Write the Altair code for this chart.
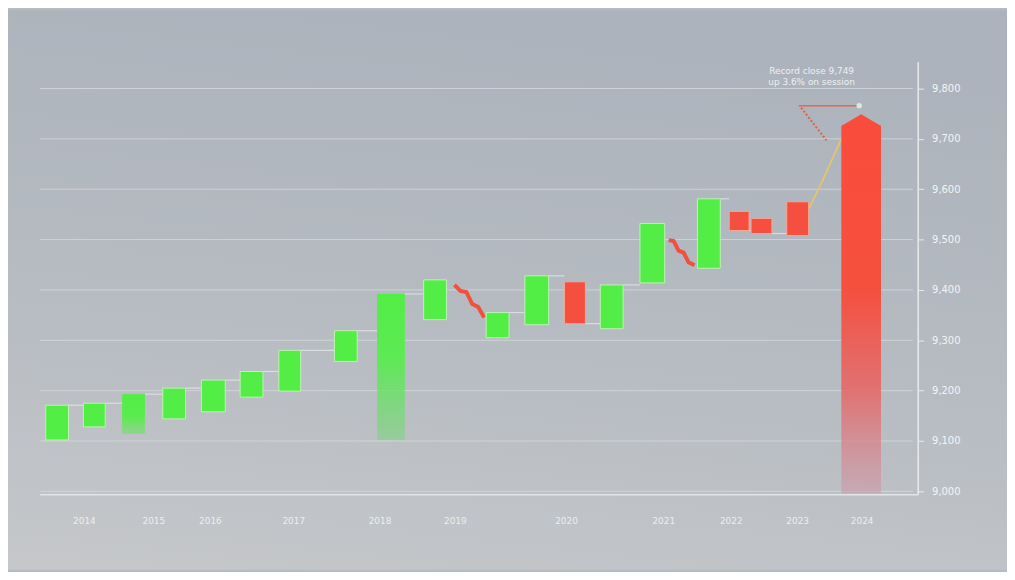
import altair as alt
import pandas as pd

# ---- data ----
start = [1.2, 8.8, 16.6, 24.8, 32.6, 40.4, 48.2, 59.4, 68.0, 77.4, 90.0, 97.8, 105.8, 113.0, 121.0, 132.6, 139.0, 143.4, 150.6, 161.6]
end = [5.8, 13.2, 21.2, 29.4, 37.4, 45.0, 52.6, 64.0, 73.6, 82.0, 94.6, 102.6, 110.0, 117.6, 126.0, 137.2, 143.0, 147.6, 155.0, 169.6]
open_ = [9102, 9128, 9114, 9144, 9158, 9187, 9199, 9258, 9102, 9341, 9305, 9331, 9416, 9323, 9414, 9443, 9556, 9542, 9575, 9726]
close = [9171, 9175, 9193, 9205, 9221, 9238, 9280, 9319, 9392, 9420, 9355, 9428, 9333, 9410, 9532, 9581, 9518, 9512, 9508, 8996]
style = ["solid", "solid", "fadelight", "solid", "solid", "solid", "solid", "solid", "fade", "solid",
         "solid", "solid", "solid", "solid", "solid", "solid", "solid", "solid", "solid", "big"]

# red zig-zag pullbacks between candles
wig_id = ["a"] * 6 + ["b"] * 6
wig_x = [83.6, 84.8, 86.0, 87.2, 88.4, 89.6, 126.8, 127.8, 128.8, 129.8, 130.8, 132.0]
wig_v = [9410, 9398, 9396, 9372, 9366, 9345, 9499, 9497, 9478, 9474, 9455, 9449]

# rally line into the final candle
rally_x = [155.0, 158.2, 161.6]
rally_v = [9560, 9625, 9700]

# annotation
note_x = [153.0, 165.2]
note_v = [9766, 9766]
dot_x = [153.5, 158.6]
dot_v = [9762, 9697]
note_lines = ["Record close 9,749", "up 3.6% on session"]
note_text_x = 155.6
note_text_v = [9835, 9812]

y_ticks = [9000, 9100, 9200, 9300, 9400, 9500, 9600, 9700, 9800]
x_label_pos = [9, 23, 34.4, 51.2, 68.6, 83.8, 106.2, 125.8, 139.4, 152.8, 165.8]
x_label_txt = ["2014", "2015", "2016", "2017", "2018", "2019", "2020", "2021", "2022", "2023", "2024"]

W, H = 885, 436
XD = [0, 177]
YD = [8994, 9853]

df = pd.DataFrame({"s": start, "e": end, "o": open_, "c": close, "style": style})
df["dir"] = ["up" if c > o else "down" for o, c in zip(open_, close)]

skip = {(9, 10), (14, 15), (18, 19)}
conn = pd.DataFrame([
    {"x1": end[i], "x2": start[i + 1], "v": close[i]}
    for i in range(len(start) - 1) if (i, i + 1) not in skip
])

xs = alt.Scale(domain=XD, nice=False, zero=False)
ys = alt.Scale(domain=YD, nice=False, zero=False)

GREEN = "#52ee45"
RED = "#f5503f"

bg = alt.Chart(pd.DataFrame({"a": [0]})).mark_rect(
    color=alt.Gradient(
        gradient="linear",
        stops=[alt.GradientStop(offset=0, color="#acb3bc"),
               alt.GradientStop(offset=0.55, color="#b7bcc2"),
               alt.GradientStop(offset=1, color="#c5c7ca")],
        x1=0.3, y1=0, x2=0.1, y2=1),
).encode(x=alt.value(-32), x2=alt.value(W + 90), y=alt.value(-52), y2=alt.value(H + 76))

grid = alt.Chart(pd.DataFrame({"v": y_ticks})).mark_rule(
    color="#d4d8dc", strokeWidth=1, opacity=0.85
).encode(y=alt.Y("v:Q", scale=ys), x=alt.value(0), x2=alt.value(W - 5))

base = alt.Chart(df)
enc = dict(
    x=alt.X("s:Q", scale=xs, axis=alt.Axis(labels=False, ticks=False, grid=False, title=None,
                                          domainColor="#e2e5e8", domainWidth=1.5, zindex=1)),
    x2="e:Q",
    y=alt.Y("o:Q", scale=ys, axis=alt.Axis(orient="right", values=y_ticks, format=",.0f", grid=False,
                                          title=None, domainColor="#e8eaec", domainWidth=1.5,
                                          tickColor="#e8eaec", tickSize=6, labelColor="#f3f4f6",
                                          labelFontSize=10, labelPadding=8, labelFont="DejaVu Sans",
                                          zindex=1)),
    y2="c:Q",
)

green_solid = base.transform_filter(
    (alt.datum.style == "solid") & (alt.datum.dir == "up")
).mark_rect(color=GREEN, stroke="#bdf2b4", strokeWidth=1).encode(**enc)

red_solid = base.transform_filter(
    (alt.datum.style == "solid") & (alt.datum.dir == "down")
).mark_rect(color=RED, stroke="#f7a595", strokeWidth=1).encode(**enc)

fade = base.transform_filter(alt.datum.style == "fade").mark_rect(
    color=alt.Gradient(gradient="linear",
                       stops=[alt.GradientStop(offset=0, color="#52ee45"),
                              alt.GradientStop(offset=0.45, color="#5eea55"),
                              alt.GradientStop(offset=1, color="rgba(115,215,115,0.5)")],
                       x1=0, y1=0, x2=0, y2=1)
).encode(**enc)

fadelight = base.transform_filter(alt.datum.style == "fadelight").mark_rect(
    color=alt.Gradient(gradient="linear",
                       stops=[alt.GradientStop(offset=0, color="#52ee45"),
                              alt.GradientStop(offset=0.55, color="#58ec4c"),
                              alt.GradientStop(offset=1, color="rgba(110,225,100,0.55)")],
                       x1=0, y1=0, x2=0, y2=1)
).encode(**enc)

big = base.transform_filter(alt.datum.style == "big").mark_rect(
    color=alt.Gradient(gradient="linear",
                       stops=[alt.GradientStop(offset=0, color="#fa4c3c"),
                              alt.GradientStop(offset=0.45, color="#f5503f"),
                              alt.GradientStop(offset=0.72, color="rgba(232,100,100,0.85)"),
                              alt.GradientStop(offset=1, color="rgba(205,150,165,0.55)")],
                       x1=0, y1=0, x2=0, y2=1)
).encode(**enc)

tip = alt.Chart(pd.DataFrame({"x": [(start[-1] + end[-1]) / 2], "v": [9749]})).mark_point(
    shape="M-1,0.6L0,0L1,0.6Z", filled=True, color="#fa4c3c", opacity=1, size=1600, strokeWidth=0
).encode(x=alt.X("x:Q", scale=xs), y=alt.Y("v:Q", scale=ys))

connectors = alt.Chart(conn).mark_rule(color="#e2e5e8", strokeWidth=1.2, opacity=0.8).encode(
    x=alt.X("x1:Q", scale=xs), x2="x2:Q", y=alt.Y("v:Q", scale=ys))

wig = alt.Chart(pd.DataFrame({"id": wig_id, "x": wig_x, "v": wig_v})).mark_line(
    color="#f0503c", strokeWidth=4, strokeJoin="miter"
).encode(x=alt.X("x:Q", scale=xs), y=alt.Y("v:Q", scale=ys), detail="id:N")

rally = alt.Chart(pd.DataFrame({"x": rally_x, "v": rally_v})).mark_line(
    color="#e6c46c", strokeWidth=1.8
).encode(x=alt.X("x:Q", scale=xs), y=alt.Y("v:Q", scale=ys))

note_line = alt.Chart(pd.DataFrame({"x": note_x, "v": note_v})).mark_line(
    color="#ec6450", strokeWidth=1.5
).encode(x=alt.X("x:Q", scale=xs), y=alt.Y("v:Q", scale=ys))

dot_line = alt.Chart(pd.DataFrame({"x": dot_x, "v": dot_v})).mark_line(
    color="#ee5a45", strokeWidth=2, strokeDash=[2, 2]
).encode(x=alt.X("x:Q", scale=xs), y=alt.Y("v:Q", scale=ys))

note_dot = alt.Chart(pd.DataFrame({"x": [note_x[-1]], "v": [note_v[-1]]})).mark_circle(
    color="#dfe6e2", size=30, opacity=1
).encode(x=alt.X("x:Q", scale=xs), y=alt.Y("v:Q", scale=ys))

note_txt = alt.Chart(pd.DataFrame({"x": [note_text_x] * 2, "v": note_text_v, "t": note_lines})).mark_text(
    color="#eef0f3", fontSize=9, font="DejaVu Sans", align="center"
).encode(x=alt.X("x:Q", scale=xs), y=alt.Y("v:Q", scale=ys), text="t:N")

xlabels = alt.Chart(pd.DataFrame({"x": x_label_pos, "t": x_label_txt})).mark_text(
    color="#eceef1", fontSize=9, font="DejaVu Sans", align="center", baseline="middle"
).encode(x=alt.X("x:Q", scale=xs), y=alt.value(H + 27), text="t:N")

chart = alt.layer(
    bg, grid, connectors, wig, rally, fadelight, fade, green_solid, red_solid, big, tip,
    note_line, dot_line, note_dot, note_txt, xlabels
).properties(
    width=W, height=H,
    autosize=alt.AutoSizeParams(type="none"),
    padding={"left": 32, "top": 52, "right": 90, "bottom": 76},
    background="#b5bbc2",
).configure_view(stroke=None)

chart.save("out.html", embed_options={"renderer": "svg", "actions": False})
